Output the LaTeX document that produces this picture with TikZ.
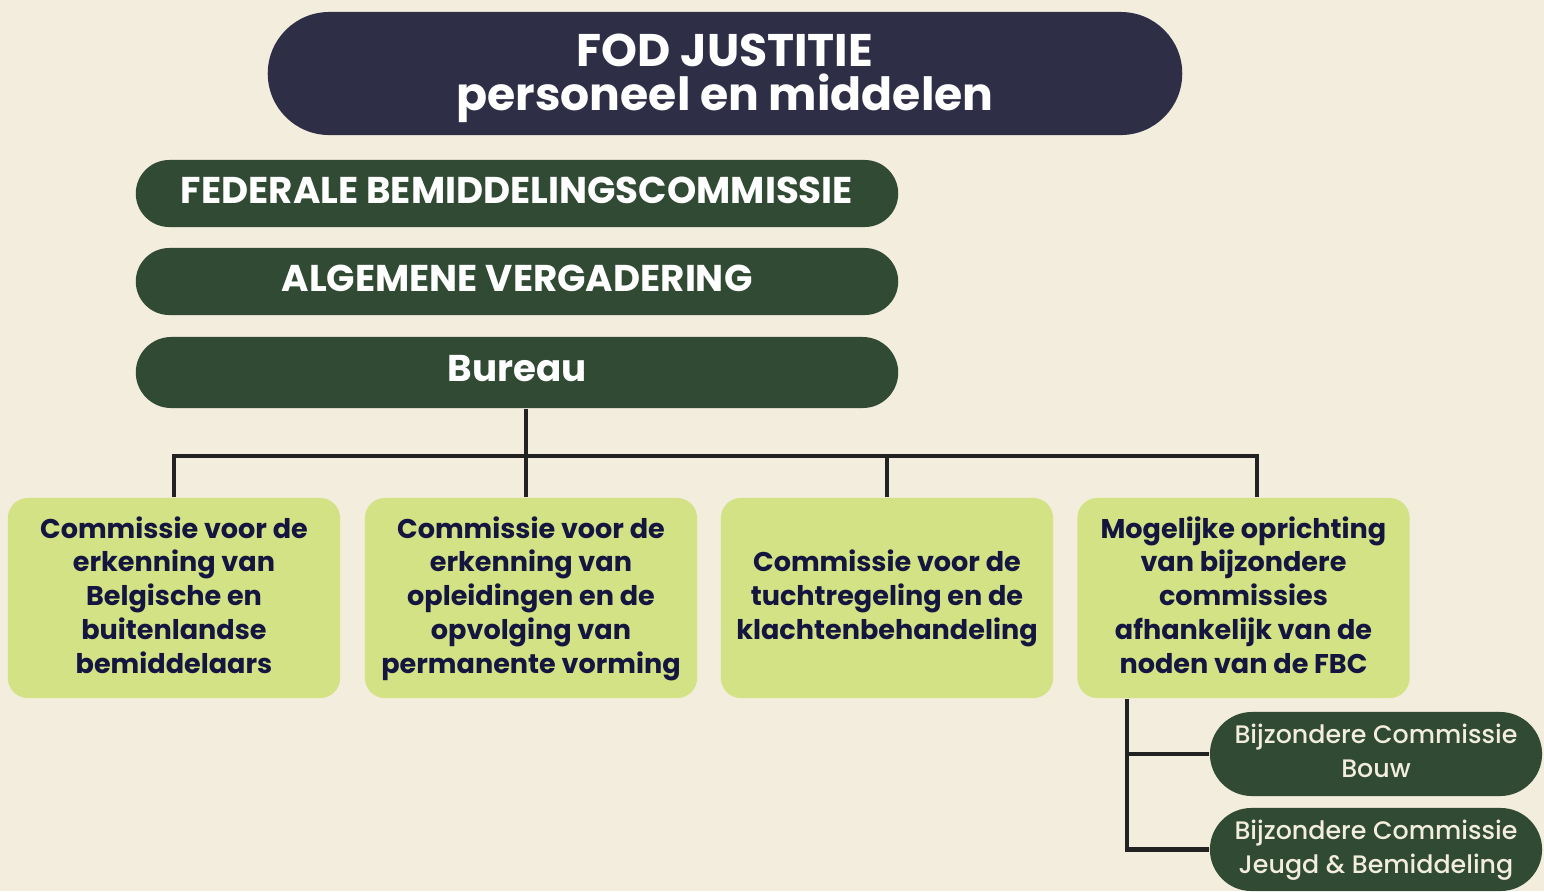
\documentclass[tikz,border=0pt]{standalone}
\usepackage{fontspec}
\setmainfont{Poppins}
\newfontfamily\popmed{Poppins Medium}
\usetikzlibrary{positioning,shapes.misc}
\definecolor{bg}{HTML}{F2EDDC}
\definecolor{navy}{HTML}{2E2F47}
\definecolor{forest}{HTML}{304A33}
\definecolor{lime}{HTML}{D4E286}
\definecolor{ink}{HTML}{14163F}
\definecolor{cream}{HTML}{F2EDDC}
\definecolor{wire}{HTML}{222222}
\tikzset{
    head/.style={rounded rectangle, fill=navy, text=white, inner sep=0pt,
        minimum width=9.14cm, minimum height=1.23cm, align=center,
        text height=0.87cm, font=\bfseries\fontsize{13}{12.7}\selectfont},
    bar/.style={rounded rectangle, fill=forest, text=white, inner sep=0pt,
        minimum width=7.62cm, minimum height=0.67cm, text depth=0.06cm,
        font=\bfseries\fontsize{10.6}{12}\selectfont},
    cbox/.style={rectangle, rounded corners=0.2cm, fill=lime, text=ink,
        inner sep=0pt, minimum width=3.32cm, minimum height=2cm, align=center,
        text depth=0.06cm, font=\bfseries\fontsize{7.7}{9.64}\selectfont},
    subbar/.style={rounded rectangle, fill=forest, text=cream, inner sep=0pt,
        minimum width=3.32cm, minimum height=0.84cm, align=center,
        text depth=0.06cm, font=\popmed\fontsize{7.2}{9.64}\selectfont},
    link/.style={draw=wire, line width=1.15pt}
}

\begin{document}
\begin{tikzpicture}[x=0.01cm, y=-0.01cm]
        \fill[bg] (0,0) rectangle (1544,891);

        \node[head] (fod) at (725,73.5) {FOD JUSTITIE\\personeel en middelen};
        \node[bar] (fbc) at (517,193.5) {FEDERALE BEMIDDELINGSCOMMISSIE};
        \node[bar] (av) at (517,281.5) {ALGEMENE VERGADERING};
        \node[bar, minimum height=0.71cm, text depth=0.08cm] (bureau) at (517,372.5) {Bureau};

        \node[cbox] (erkbem) at (174,598) {Commissie voor de\\erkenning van\\Belgische en\\buitenlandse\\bemiddelaars};
        \node[cbox] (erkopl) at (531,598) {Commissie voor de\\erkenning van\\opleidingen en de\\opvolging van\\permanente vorming};
        \node[cbox] (tucht) at (887,598) {Commissie voor de\\tuchtregeling en de\\klachtenbehandeling};
        \node[cbox] (bijz) at (1243.5,598) {Mogelijke oprichting\\van bijzondere\\commissies\\afhankelijk van de\\noden van de FBC};

        \node[subbar] (bouw) at (1376,754) {Bijzondere Commissie\\Bouw};
        \node[subbar, minimum height=0.83cm] (jeugd) at (1376,849.5) {Bijzondere Commissie\\Jeugd \& Bemiddeling};

        \coordinate (hub) at (526,456);
        \coordinate (fork) at (1127,754);

        \draw[link] (bureau.south -| hub) -- (hub);
        \draw[link] (erkbem.north) |- (hub);
        \draw[link] (erkopl.north -| hub) -- (hub);
        \draw[link] (tucht.north) |- (hub);
        \draw[link] ([xshift=0.135cm]bijz.north) |- (hub);

        \draw[link] (bijz.south -| fork) -- (fork |- jeugd.west) -- (jeugd.west);
        \draw[link] (fork) -- (bouw.west);
\end{tikzpicture}
\end{document}
